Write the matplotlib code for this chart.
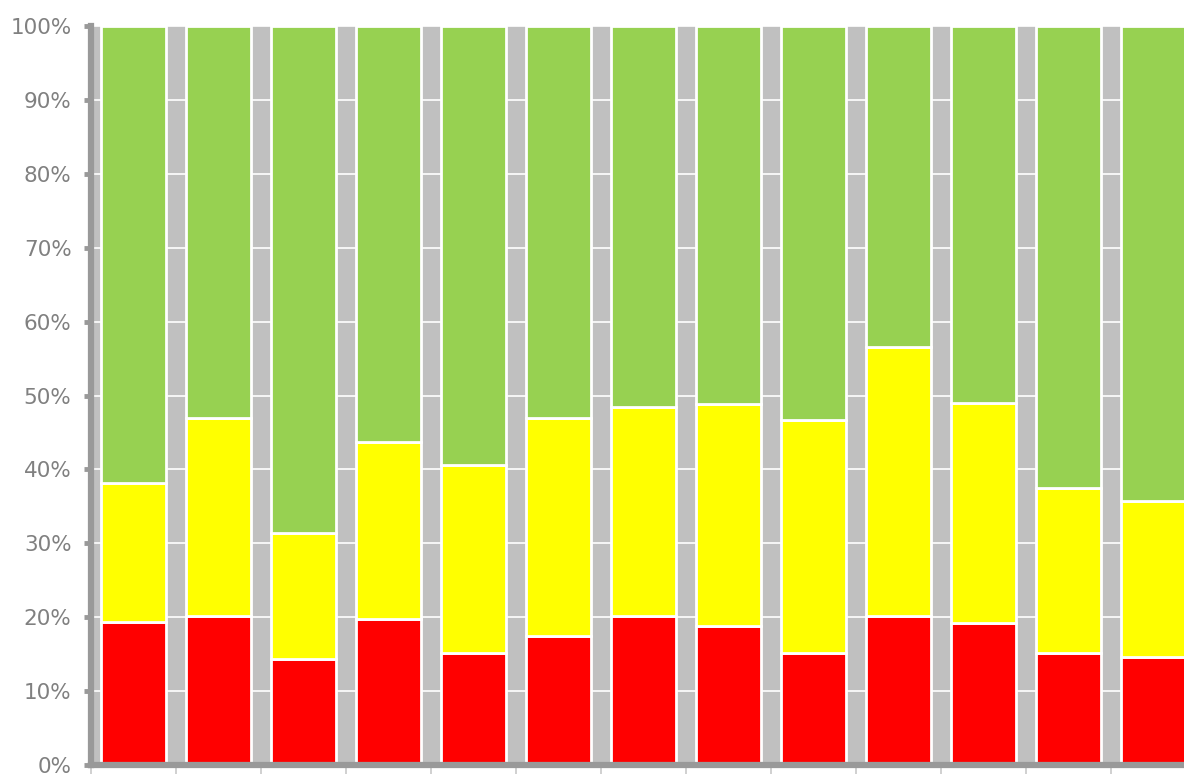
import numpy as np
import matplotlib.pyplot as plt
from matplotlib.ticker import PercentFormatter

# データ（各棒の割合 %）
red = [19.35, 20.2, 14.3, 19.8, 15.2, 17.5, 20.2, 18.8, 15.2, 20.2, 19.2, 15.2, 14.6]
yellow = [18.85, 26.8, 17.1, 23.9, 25.4, 29.5, 28.2, 30.1, 31.5, 36.4, 29.8, 22.3, 21.1]
green = [61.8, 53.0, 68.6, 56.3, 59.4, 53.0, 51.6, 51.1, 53.3, 43.4, 51.0, 62.5, 64.3]
yticks = [0, 10, 20, 30, 40, 50, 60, 70, 80, 90, 100]

fig = plt.figure(figsize=(11.84, 7.74), dpi=100)
ax = fig.add_axes([91 / 1184, 9 / 774, 1105 / 1184, 739 / 774])
ax.set_facecolor('#C0C0C0')

x = np.arange(len(red))
width = 0.77
kw = dict(width=width, edgecolor='white', linewidth=2, zorder=3)
ax.bar(x, red, color='#FF0000', **kw)
ax.bar(x, yellow, bottom=red, color='#FFFF00', **kw)
bottom2 = np.array(red) + np.array(yellow)
ax.bar(x, green, bottom=bottom2, color='#97D151', **kw)

ax.set_xlim(-0.5, len(red) - 0.5)
ax.set_ylim(0, 100)
ax.set_yticks(yticks)
ax.yaxis.set_major_formatter(PercentFormatter(decimals=0))
ax.grid(axis='y', color='white', linewidth=1.2, zorder=0)

# 軸の装飾
for s in ['top', 'right']:
    ax.spines[s].set_visible(False)
for s in ['left', 'bottom']:
    ax.spines[s].set_color('#999999')
    ax.spines[s].set_linewidth(4.5)
    ax.spines[s].set_zorder(5)

ax.tick_params(axis='y', colors='#999999', length=5, width=3.5, labelsize=15.5,
               labelcolor='#808080', pad=9)
ax.set_xticks([])
ax.set_xticks(np.arange(-0.5, len(red), 1), minor=True)
ax.tick_params(axis='x', which='minor', colors='#C8C8C8', length=7, width=1.2,
               labelbottom=False)

fig.savefig('out.png', dpi=100)
